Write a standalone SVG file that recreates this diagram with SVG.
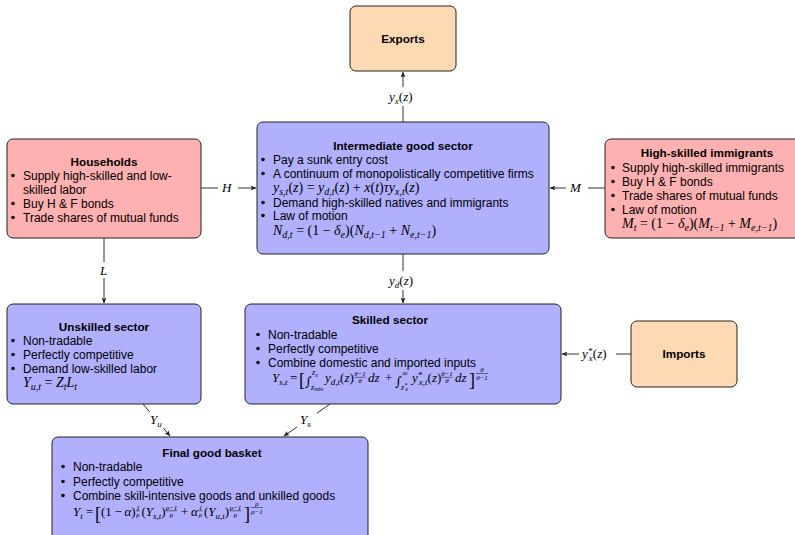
<svg xmlns="http://www.w3.org/2000/svg" width="795" height="535" viewBox="0 0 795 535">
<style>
.t{font-family:"Liberation Sans",Arial,sans-serif;font-size:12px;fill:#000}
.h{font-family:"Liberation Sans",Arial,sans-serif;font-size:11.7px;font-weight:bold;text-anchor:middle;fill:#000}
.m{font-family:"Liberation Serif","Times New Roman",serif;font-size:14px;font-style:italic;fill:#000}
.k{font-size:13px}
.u{font-style:normal}
.s{font-size:10px}
.k .s{font-size:9px}
.ms{font-family:"Liberation Serif","Times New Roman",serif;font-size:8px;font-style:italic;fill:#000}
.ss{font-size:6px}
.fr{font-family:"Liberation Serif","Times New Roman",serif;font-size:7px;font-style:italic;fill:#000;text-anchor:middle}
.br{font-family:"Liberation Serif","Times New Roman",serif;font-size:18px;fill:#000}
.int{font-family:"DejaVu Serif",serif;font-size:13px;fill:#000}
.bar{stroke:#000;stroke-width:0.5}
.pink{fill:#FFB0B0;stroke:#222;stroke-width:1}
.blue{fill:#B0B0FF;stroke:#222;stroke-width:1}
.peach{fill:#FFD9B3;stroke:#222;stroke-width:1}
.ln{stroke:#333;stroke-width:1;fill:none}
.lb{fill:#fff}
</style>
<defs>
<marker id="ar" viewBox="0 0 8 8" refX="7" refY="4" markerWidth="6" markerHeight="6" orient="auto" markerUnits="userSpaceOnUse">
<path d="M0,0.8 L7.5,4 L0,7.2 L1.5,4 z" fill="#222"/>
</marker>
</defs>

<g id="connectors">
<path class="ln" d="M403,122 V72" marker-end="url(#ar)"/>
<path class="ln" d="M201,188 H256" marker-end="url(#ar)"/>
<path class="ln" d="M605,188 H550" marker-end="url(#ar)"/>
<path class="ln" d="M104,238 V303" marker-end="url(#ar)"/>
<path class="ln" d="M403,254 V303" marker-end="url(#ar)"/>
<path class="ln" d="M631,354 H562" marker-end="url(#ar)"/>
<path class="ln" d="M143,404 L170,436" marker-end="url(#ar)"/>
<path class="ln" d="M330,404 L284,436" marker-end="url(#ar)"/>
<rect class="lb" x="386" y="87" width="34" height="19"/>
<text class="m k" x="389" y="101">y<tspan class="s" dy="2.5">x</tspan><tspan class="u" dy="-2.5">(</tspan>z<tspan class="u">)</tspan></text>
<rect class="lb" x="218" y="180" width="20" height="16"/>
<text class="m k" x="222" y="192">H</text>
<rect class="lb" x="566" y="180" width="22" height="16"/>
<text class="m k" x="570" y="192">M</text>
<rect class="lb" x="97" y="262" width="14" height="16"/>
<text class="m k" x="100" y="275">L</text>
<rect class="lb" x="386" y="271" width="34" height="19"/>
<text class="m k" x="389" y="285">y<tspan class="s" dy="2.5">d</tspan><tspan class="u" dy="-2.5">(</tspan>z<tspan class="u">)</tspan></text>
<rect class="lb" x="579" y="345" width="37" height="19"/>
<text class="m k" x="582" y="358">y<tspan class="s" dy="-4">*</tspan><tspan class="s" dx="-3.5" dy="6.5">x</tspan><tspan class="u" dy="-2.5">(</tspan>z<tspan class="u">)</tspan></text>
<rect class="lb" x="147" y="412" width="20" height="16"/>
<text class="m k" x="150" y="424">Y<tspan class="s" dy="2.5">u</tspan></text>
<rect class="lb" x="297" y="412" width="20" height="16"/>
<text class="m k" x="300" y="424">Y<tspan class="s" dy="2.5">s</tspan></text>
</g>

<g id="exports">
<rect class="peach" x="350" y="6" width="106" height="65" rx="6"/>
<text class="h" x="403" y="43">Exports</text>
</g>

<g id="intermediate">
<rect class="blue" x="257" y="122" width="292" height="132" rx="6"/>
<text class="h" x="403" y="150">Intermediate good sector</text>
<circle cx="263" cy="159.5" r="1.8"/>
<text class="t" x="273" y="164">Pay a sunk entry cost</text>
<circle cx="263" cy="173.5" r="1.8"/>
<text class="t" x="273" y="178">A continuum of monopolistically competitive firms</text>
<text class="m" x="273" y="192">y<tspan class="s" dy="2.5">s,t</tspan><tspan class="u" dy="-2.5">(</tspan>z<tspan class="u">) = </tspan>y<tspan class="s" dy="2.5">d,t</tspan><tspan class="u" dy="-2.5">(</tspan>z<tspan class="u">) + </tspan>x<tspan class="u">(</tspan>t<tspan class="u">)</tspan>τy<tspan class="s" dy="2.5">x,t</tspan><tspan class="u" dy="-2.5">(</tspan>z<tspan class="u">)</tspan></text>
<circle cx="263" cy="202.5" r="1.8"/>
<text class="t" x="273" y="207">Demand high-skilled natives and immigrants</text>
<circle cx="263" cy="215.5" r="1.8"/>
<text class="t" x="273" y="220">Law of motion</text>
<text class="m" x="273" y="235">N<tspan class="s" dy="2.5">d,t</tspan><tspan class="u" dy="-2.5"> = (1 − </tspan>δ<tspan class="s" dy="2.5">e</tspan><tspan class="u" dy="-2.5">)(</tspan>N<tspan class="s" dy="2.5">d,t−1</tspan><tspan class="u" dy="-2.5"> + </tspan>N<tspan class="s" dy="2.5">e,t−1</tspan><tspan class="u" dy="-2.5">)</tspan></text>
</g>

<g id="households">
<rect class="pink" x="7" y="139" width="194" height="99" rx="6"/>
<text class="h" x="104" y="166">Households</text>
<circle cx="13" cy="175.5" r="1.8"/>
<text class="t" x="23" y="180">Supply high-skilled and low-</text>
<text class="t" x="23" y="194">skilled labor</text>
<circle cx="13" cy="203.5" r="1.8"/>
<text class="t" x="23" y="208">Buy H &amp; F bonds</text>
<circle cx="13" cy="217.5" r="1.8"/>
<text class="t" x="23" y="222">Trade shares of mutual funds</text>
</g>

<g id="immigrants">
<rect class="pink" x="605" y="139" width="204" height="99" rx="6"/>
<text class="h" x="707" y="157">High-skilled immigrants</text>
<circle cx="613" cy="167.5" r="1.8"/>
<text class="t" x="622" y="172">Supply high-skilled immigrants</text>
<circle cx="613" cy="181.5" r="1.8"/>
<text class="t" x="622" y="186">Buy H &amp; F bonds</text>
<circle cx="613" cy="195.5" r="1.8"/>
<text class="t" x="622" y="200">Trade shares of mutual funds</text>
<circle cx="613" cy="209.5" r="1.8"/>
<text class="t" x="622" y="214">Law of motion</text>
<text class="m" x="622" y="228">M<tspan class="s" dy="2.5">t</tspan><tspan class="u" dy="-2.5"> = (1 − </tspan>δ<tspan class="s" dy="2.5">e</tspan><tspan class="u" dy="-2.5">)(</tspan>M<tspan class="s" dy="2.5">t−1</tspan><tspan class="u" dy="-2.5"> + </tspan>M<tspan class="s" dy="2.5">e,t−1</tspan><tspan class="u" dy="-2.5">)</tspan></text>
</g>

<g id="unskilled">
<rect class="blue" x="7" y="304" width="194" height="100" rx="6"/>
<text class="h" x="104" y="331">Unskilled sector</text>
<circle cx="13" cy="340.5" r="1.8"/>
<text class="t" x="23" y="345">Non-tradable</text>
<circle cx="13" cy="354.5" r="1.8"/>
<text class="t" x="23" y="359">Perfectly competitive</text>
<circle cx="13" cy="368.5" r="1.8"/>
<text class="t" x="23" y="373">Demand low-skilled labor</text>
<text class="m" x="23" y="387">Y<tspan class="s" dy="2.5">u,t</tspan><tspan class="u" dy="-2.5"> = </tspan>Z<tspan class="s" dy="2.5">t</tspan><tspan dy="-2.5">L</tspan><tspan class="s" dy="2.5">t</tspan></text>
</g>

<g id="skilled">
<rect class="blue" x="245" y="304" width="316" height="100" rx="6"/>
<text class="h" x="390" y="324">Skilled sector</text>
<circle cx="258" cy="334.5" r="1.8"/>
<text class="t" x="268" y="338.5">Non-tradable</text>
<circle cx="258" cy="348.5" r="1.8"/>
<text class="t" x="268" y="352.5">Perfectly competitive</text>
<circle cx="258" cy="362.5" r="1.8"/>
<text class="t" x="268" y="366.5">Combine domestic and imported inputs</text>
<text class="m k" x="272" y="382">Y<tspan class="s" dy="2.5">s,t</tspan></text>
<text class="m k u" x="290" y="382">=</text>
<text class="br" x="299" y="386">[</text>
<text class="int" x="305" y="386">∫</text>
<text class="ms" x="312" y="375">z<tspan class="ss" dy="1.5">x</tspan></text>
<text class="ms" x="311" y="389.5">z<tspan class="ss" dy="1.5">min</tspan></text>
<text class="m k" x="325" y="382">y<tspan class="s" dy="2.5">d,t</tspan><tspan class="u" dy="-2.5">(</tspan>z<tspan class="u">)</tspan></text>
<text class="fr" x="360" y="376">θ−1</text>
<line class="bar" x1="354.5" y1="377.3" x2="365.5" y2="377.3"/>
<text class="fr" x="360" y="383">θ</text>
<text class="m k" x="368" y="382">dz</text>
<text class="m k u" x="385" y="382">+</text>
<text class="int" x="395" y="386">∫</text>
<text class="ms u" x="402" y="375.5">∞</text>
<text class="ms" x="401" y="389.5">z<tspan class="ss" dy="-3">*</tspan><tspan class="ss" dx="-2" dy="4.5">x</tspan></text>
<text class="m k" x="412" y="382">y<tspan class="s" dy="-4">*</tspan><tspan class="s" dx="-3.5" dy="6.5">x,t</tspan><tspan class="u" dy="-2.5">(</tspan>z<tspan class="u">)</tspan></text>
<text class="fr" x="447" y="376">θ−1</text>
<line class="bar" x1="441.5" y1="377.3" x2="452.5" y2="377.3"/>
<text class="fr" x="447" y="383">θ</text>
<text class="m k" x="455" y="382">dz</text>
<text class="br" x="469" y="386">]</text>
<text class="fr" x="482" y="372">θ</text>
<line class="bar" x1="476" y1="373.5" x2="488" y2="373.5"/>
<text class="fr" x="482" y="379.5">θ−1</text>
</g>

<g id="imports">
<rect class="peach" x="631" y="321" width="106" height="66" rx="6"/>
<text class="h" x="684" y="358">Imports</text>
</g>

<g id="final">
<rect class="blue" x="52" y="437" width="316" height="110" rx="6"/>
<text class="h" x="212" y="457">Final good basket</text>
<circle cx="63" cy="466.5" r="1.8"/>
<text class="t" x="73" y="471">Non-tradable</text>
<circle cx="63" cy="481.5" r="1.8"/>
<text class="t" x="73" y="486">Perfectly competitive</text>
<circle cx="63" cy="495.5" r="1.8"/>
<text class="t" x="73" y="500">Combine skill-intensive goods and unkilled goods</text>
<text class="m k" x="73" y="516">Y<tspan class="s" dy="2.5">t</tspan></text>
<text class="m k u" x="86" y="516">=</text>
<text class="br" x="95" y="520">[</text>
<text class="m k" x="101" y="516"><tspan class="u">(1&#8201;−&#8201;</tspan>α<tspan class="u">)</tspan></text>
<text class="fr u" x="138" y="509.5">1</text>
<line class="bar" x1="136" y1="510.8" x2="140" y2="510.8"/>
<text class="fr" x="138" y="516.5">ρ</text>
<text class="m k" x="141.5" y="516"><tspan class="u">(</tspan>Y<tspan class="s" dy="2.5">s,t</tspan><tspan class="u" dy="-2.5">)</tspan></text>
<text class="fr" x="171.5" y="509.5">ρ−1</text>
<line class="bar" x1="166" y1="510.8" x2="177" y2="510.8"/>
<text class="fr" x="171.5" y="516.5">ρ</text>
<text class="m k u" x="181" y="516">+</text>
<text class="m k" x="191" y="516">α</text>
<text class="fr u" x="200.5" y="509.5">1</text>
<line class="bar" x1="198.5" y1="510.8" x2="202.5" y2="510.8"/>
<text class="fr" x="200.5" y="516.5">ρ</text>
<text class="m k" x="204" y="516"><tspan class="u">(</tspan>Y<tspan class="s" dy="2.5">u,t</tspan><tspan class="u" dy="-2.5">)</tspan></text>
<text class="fr" x="235.5" y="509.5">ρ−1</text>
<line class="bar" x1="230" y1="510.8" x2="241" y2="510.8"/>
<text class="fr" x="235.5" y="516.5">ρ</text>
<text class="br" x="244" y="520">]</text>
<text class="fr" x="257" y="506">ρ</text>
<line class="bar" x1="251" y1="507.5" x2="263" y2="507.5"/>
<text class="fr" x="257" y="513.5">ρ−1</text>
</g>
</svg>
